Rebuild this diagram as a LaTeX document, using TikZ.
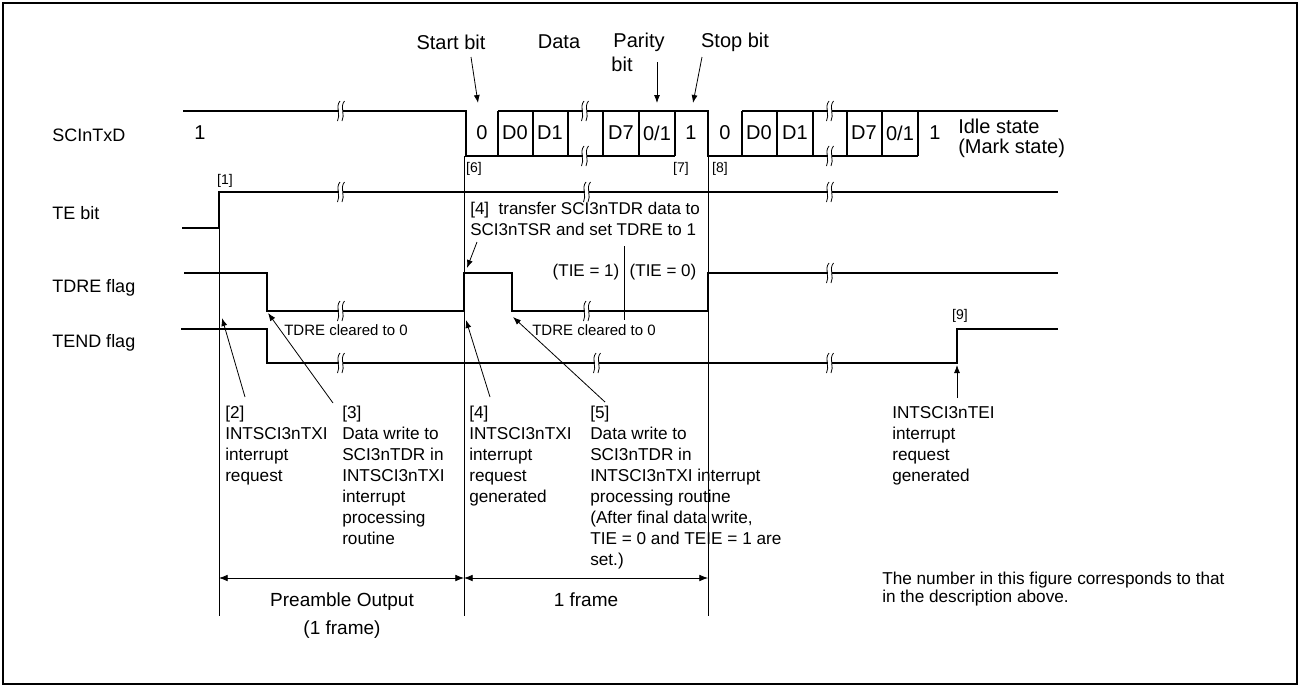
\documentclass[tikz,border=0pt]{standalone}
\usepackage{fontspec}
\setmainfont{Liberation Sans}
\usetikzlibrary{arrows.meta}

\tikzset{brk/.pic={
  \fill[white] (-2.4,-10) rectangle (2.4,10);
  \draw[line width=0.6pt] (-1,-10) .. controls (-6,-4) and (0,4) .. (-3.5,10);
  \draw[line width=0.6pt] (3.5,-10) .. controls (-1.5,-4) and (4.5,4) .. (1,10);
}}

\begin{document}
\begin{tikzpicture}[x=0.75pt,y=-0.75pt,
    wave/.style={line width=1.5pt},
    guide/.style={line width=0.6pt},
    pointer/.style={line width=0.6pt,-{Latex[length=6pt,width=4.5pt]}},
    span/.style={line width=0.6pt,{Latex[length=6.5pt,width=5pt]}-{Latex[length=6.5pt,width=5pt]}},
    big/.style={font=\fontsize{13.5}{16}\selectfont,inner sep=0pt},
    bitval/.style={font=\fontsize{15}{18}\selectfont,inner sep=0pt},
    tag/.style={font=\fontsize{10.5}{12}\selectfont,inner sep=0pt},
    note/.style={font=\fontsize{12.9}{15.75}\selectfont,inner sep=0pt,align=left,anchor=north west},
    small/.style={font=\fontsize{11.25}{14}\selectfont,inner sep=0pt}]
\useasboundingbox (0,0) rectangle (1301,686);
\draw[line width=2pt] (3,3) rectangle (1297,684);

% signal names
\node[big,anchor=west] (nTx) at (52,135) {SCInTxD};
\node[big,anchor=west] (nTe) at (52,213) {TE bit};
\node[big,anchor=west] (nTdre) at (52,288) {TDRE flag};
\node[big,anchor=west] (nTend) at (52,343) {TEND flag};

% SCInTxD
\draw[wave] (183,111) -| (466,156) -- (675,156);
\draw[wave] (498,111) -- (708,111) |- (918,156);
\draw[wave] (742,111) -- (1058,111);
\foreach \x in {498,533,568,603,639,675,742,777,813,847,882,918}
  \draw[wave] (\x,111) -- (\x,156);
\foreach \x/\t in {200/1,482/0,515/D0,550/D1,621/D7,657/0\slash1,691/1,
                   725/0,759/D0,795/D1,864/D7,900/0\slash1,935/1}
  \node[bitval] at (\x,133) {\t};
\node[bitval,anchor=west] (idle) at (958,126) {Idle state};
\node[bitval,anchor=west] (mark) at (958,148) {(Mark state)};

% TE bit
\draw[wave] (182,228) -| (219,192) -- (1058,192);
% TDRE flag
\draw[wave] (184,273) -| (267,311) -| (464,273) -| (512,311) -| (708,273) -- (1058,273);
% TEND flag
\draw[wave] (181,329) -| (267,363) -| (957,329) -- (1058,329);

% breaks
\foreach \p in {(341,111),(585,111),(585,156),(830,111),(830,156),
                (341,192),(587,192),(830,192),
                (341,311),(587,311),(830,273),
                (341,363),(597,363),(830,363)}
  \pic at \p {brk};

% time marks
\draw[guide] (219,192) -- (219,616);
\draw[guide] (464,156) -- (464,616);
\draw[guide] (708,156) -- (708,616);
\draw[guide] (624,246) -- (624,320);

% frame labels on top
\node[bitval] (start) at (451,42) {Start bit};
\node[bitval] (data) at (559,42) {Data};
\node[bitval] (parity) at (639,42) {Parity};
\node[bitval] (pbit) at (622,64) {bit};
\node[bitval] (stop) at (735,42) {Stop bit};
\draw[pointer] (471,57) -- (478,103);
\draw[pointer] (657,62) -- (657,103);
\draw[pointer] (702,57) -- (693,103);

% numbers
\node[tag] (n1) at (225,181) {[1]};
\node[tag] (n6) at (474,169) {[6]};
\node[tag] (n7) at (681,169) {[7]};
\node[tag] (n8) at (720,169) {[8]};
\node[tag] (n9) at (960,316) {[9]};

% notes in the middle
\node[note,font=\fontsize{12.75}{15.75}\selectfont] (xfer) at (470,202)
  {[4]\ \ transfer SCI3nTDR data to\\SCI3nTSR and set TDRE to 1};
\node[small,font=\fontsize{12.75}{15}\selectfont] (tie1) at (586,272) {(TIE = 1)};
\node[small,font=\fontsize{12.75}{15}\selectfont] (tie0) at (663,272) {(TIE = 0)};
\node[small] (clr1) at (346,330) {TDRE cleared to 0};
\node[small] (clr2) at (594,330) {TDRE cleared to 0};
\draw[pointer] (477,242) -- (467,268);

% bottom notes
\node[note] (c2) at (225,406) {[2]\\INTSCI3nTXI\\interrupt\\request};
\node[note] (c3) at (342,406) {[3]\\Data write to\\SCI3nTDR in\\INTSCI3nTXI\\interrupt\\processing\\routine};
\node[note] (c4) at (469,406) {[4]\\INTSCI3nTXI\\interrupt\\request\\generated};
\node[note] (c5) at (590,406) {[5]\\Data write to\\SCI3nTDR in\\INTSCI3nTXI interrupt\\processing routine\\(After final data write,\\TIE = 0 and TEIE = 1 are\\set.)};
\node[note] (c9) at (892,406) {INTSCI3nTEI\\interrupt\\request\\generated};
\draw[pointer] (245,397) -- (222,318);
\draw[pointer] (333,403) -- (268,313);
\draw[pointer] (490,397) -- (466,320);
\draw[pointer] (605,402) -- (513,317);
\draw[pointer] (957,398) -- (957,365);

% frame lengths
\draw[span] (219,578) -- (464,578);
\draw[span] (464,578) -- (708,578);
\node[big,font=\fontsize{14.25}{21}\selectfont,align=center,anchor=north] (pre) at (342,592) {Preamble Output\\(1 frame)};
\node[big,font=\fontsize{14.25}{21}\selectfont,anchor=north] (frm) at (586,592) {1 frame};

\node[note,font=\fontsize{12.9}{13.5}\selectfont] (about) at (882,572) {The number in this figure corresponds to that\\in the description above.};
\end{tikzpicture}
\end{document}
